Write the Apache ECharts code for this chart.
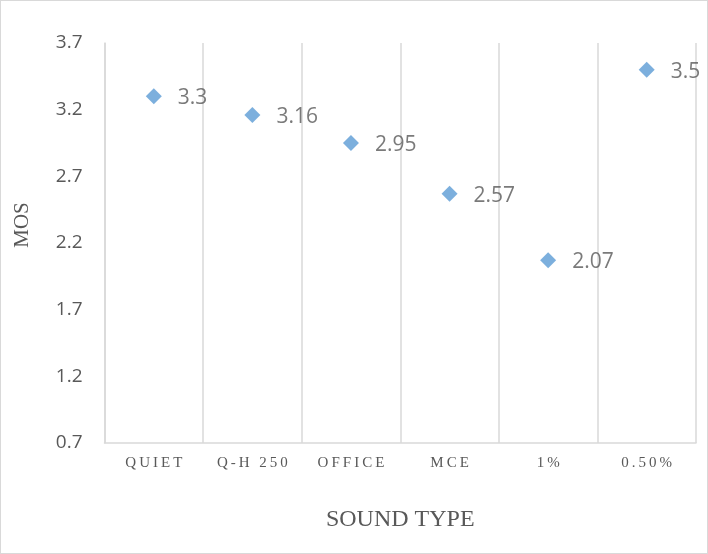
<!DOCTYPE html>
<html>
<head>
<meta charset="utf-8">
<style>
  html, body { margin: 0; padding: 0; background: #fff; }
  #chart { width: 706px; height: 552px; border: 1px solid #d9d9d9; }
</style>
<script src="https://cdn.jsdelivr.net/npm/echarts@6/dist/echarts.min.js"></script>
</head>
<body>
<div id="chart"></div>
<script>
// Mean opinion score per sound type
const soundTypes = ['QUIET', 'Q-H 250', 'OFFICE', 'MCE', '1%', '0.50%'];
const mosValues = [3.3, 3.16, 2.95, 2.57, 2.07, 3.5];
const yTicks = { min: 0.7, max: 3.7, step: 0.5 };

const chart = echarts.init(document.getElementById('chart'), null, { renderer: 'canvas' });

chart.setOption({
  animation: false,
  backgroundColor: '#ffffff',
  grid: { left: 103.5, right: 11, top: 42, bottom: 110, outerBoundsMode: 'none', containLabel: false },
  xAxis: {
    type: 'category',
    data: soundTypes,
    boundaryGap: true,
    name: 'SOUND TYPE',
    nameLocation: 'middle',
    nameGap: 65,
    nameTextStyle: { fontFamily: 'Liberation Serif', fontSize: 24, color: '#595959' },
    axisLine: { show: true, lineStyle: { color: '#d9d9d9', width: 1.5 } },
    axisTick: { show: false },
    axisLabel: {
      fontFamily: 'Liberation Serif', fontSize: 15, color: '#595959', margin: 13,
      // spread the letters a little, as in small-caps style category labels
      formatter: (v) => v.split('').join('\u2009')
    },
    splitLine: { show: true, lineStyle: { color: '#d9d9d9', width: 1.5 } }
  },
  yAxis: {
    type: 'value',
    min: yTicks.min,
    max: yTicks.max,
    interval: yTicks.step,
    axisLine: { show: true, lineStyle: { color: '#d9d9d9', width: 1.5 } },
    axisTick: { show: false },
    axisLabel: {
      fontFamily: 'Open Sans', fontSize: 19, color: '#595959', margin: 22,
      formatter: (v) => v.toFixed(1)
    },
    splitLine: { show: false }
  },
  graphic: [{
    type: 'text',
    x: 21,
    y: 224,
    rotation: Math.PI / 2,
    style: {
      text: 'MOS',
      font: '21px "Liberation Serif"',
      fill: '#595959',
      align: 'center',
      verticalAlign: 'middle'
    }
  }],
  series: [{
    type: 'scatter',
    data: mosValues,
    symbol: 'diamond',
    symbolSize: [16, 16],
    itemStyle: { color: '#5b9bd5' },
    label: {
      show: true,
      position: 'right',
      distance: 16,
      offset: [0, 2],
      fontFamily: 'Open Sans',
      fontSize: 21,
      color: '#595959',
      formatter: (p) => String(p.value)
    }
  }]
});
</script>
</body>
</html>
